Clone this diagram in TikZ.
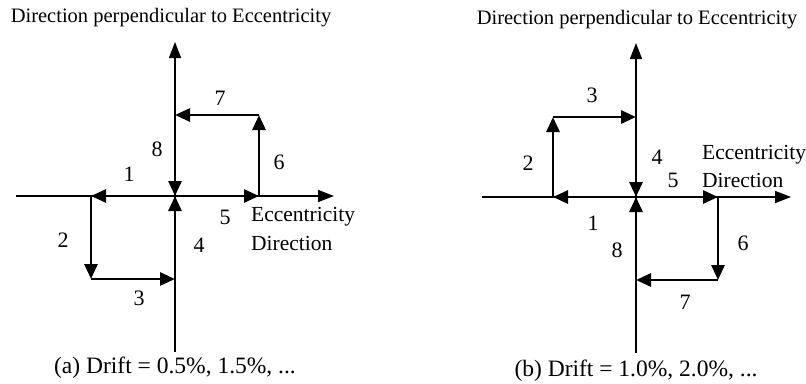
\documentclass[tikz,border=0pt]{standalone}
\usepackage{fontspec}
\setmainfont{Liberation Serif}
\usetikzlibrary{arrows.meta}
\begin{document}
\begin{tikzpicture}[x=1pt,y=-1pt,
  axis/.style={line width=1.4pt,-{Triangle[length=16pt,width=12pt]}},
  leg/.style={line width=2.8pt,-{Triangle[length=15pt,width=13pt]}},
  num/.style={font=\fontsize{22}{22}\selectfont, inner sep=0pt},
  ecc/.style={font=\fontsize{21.5}{25}\selectfont, inner sep=0pt, anchor=west},
  ttl/.style={font=\fontsize{20.5}{22}\selectfont, inner sep=0pt},
  captxt/.style={font=\fontsize{23.5}{25}\selectfont, inner sep=0pt}]
\useasboundingbox (0,0) rectangle (806,383);
% ---------- (a) ----------
\coordinate (aO) at (175,196);
\coordinate (aL) at (91,196);
\coordinate (aLD) at (91,279);
\coordinate (aD) at (175,279);
\coordinate (aR) at (259,196);
\coordinate (aRU) at (259,115);
\coordinate (aU) at (175,115);
\coordinate (aXs) at (16,196);
\coordinate (aXe) at (334,196);
\coordinate (aYs) at (175,352);
\coordinate (aYe) at (175,42);
\draw[axis] (aXs) -- (aXe);
\draw[axis] (aYs) -- (aYe);
\draw[leg] (aO) -- (aL);
\draw[leg] (aL) -- (aLD);
\draw[leg] (aLD) -- (aD);
\draw[leg] (aD) -- (aO);
\draw[leg] (aO) -- (aR);
\draw[leg] (aR) -- (aRU);
\draw[leg] (aRU) -- (aU);
\draw[leg] (aU) -- (aO);
\node[num] (an1) at (129,174) {1};
\node[num] (an2) at (63,240) {2};
\node[num] (an3) at (139,298) {3};
\node[num] (an4) at (199,245) {4};
\node[num] (an5) at (225,217) {5};
\node[num] (an6) at (279,162) {6};
\node[num] (an7) at (220,98) {7};
\node[num] (an8) at (157,149) {8};
\node[ecc] (aecc1) at (251,217) {Eccentricity};
\node[ecc] (aecc2) at (251,243) {Direction};
\node[ttl] (atitle) at (171,18) {Direction perpendicular to Eccentricity};
\node[captxt] (acap) at (175,368) {(a) Drift = 0.5\%, 1.5\%, ...};
% ---------- (b) ----------
\coordinate (bO) at (636,197);
\coordinate (bL) at (553,197);
\coordinate (bLU) at (553,117);
\coordinate (bU) at (636,117);
\coordinate (bR) at (718,197);
\coordinate (bRD) at (718,280);
\coordinate (bD) at (636,280);
\coordinate (bXs) at (482,197);
\coordinate (bXe) at (791,197);
\coordinate (bYs) at (636,353);
\coordinate (bYe) at (636,43);
\draw[axis] (bXs) -- (bXe);
\draw[axis] (bYs) -- (bYe);
\draw[leg] (bO) -- (bL);
\draw[leg] (bL) -- (bLU);
\draw[leg] (bLU) -- (bU);
\draw[leg] (bU) -- (bO);
\draw[leg] (bO) -- (bR);
\draw[leg] (bR) -- (bRD);
\draw[leg] (bRD) -- (bD);
\draw[leg] (bD) -- (bO);
\node[num] (bn1) at (593,223) {1};
\node[num] (bn2) at (528,163) {2};
\node[num] (bn3) at (592,95) {3};
\node[num] (bn4) at (657,157) {4};
\node[num] (bn5) at (673,180) {5};
\node[num] (bn6) at (743,243) {6};
\node[num] (bn7) at (685,302) {7};
\node[num] (bn8) at (617,250) {8};
\node[ecc] (becc1) at (702,155) {Eccentricity};
\node[ecc] (becc2) at (702,180) {Direction};
\node[ttl] (btitle) at (637,20) {Direction perpendicular to Eccentricity};
\node[captxt] (bcap) at (636,371) {(b) Drift = 1.0\%, 2.0\%, ...};
\end{tikzpicture}
\end{document}
